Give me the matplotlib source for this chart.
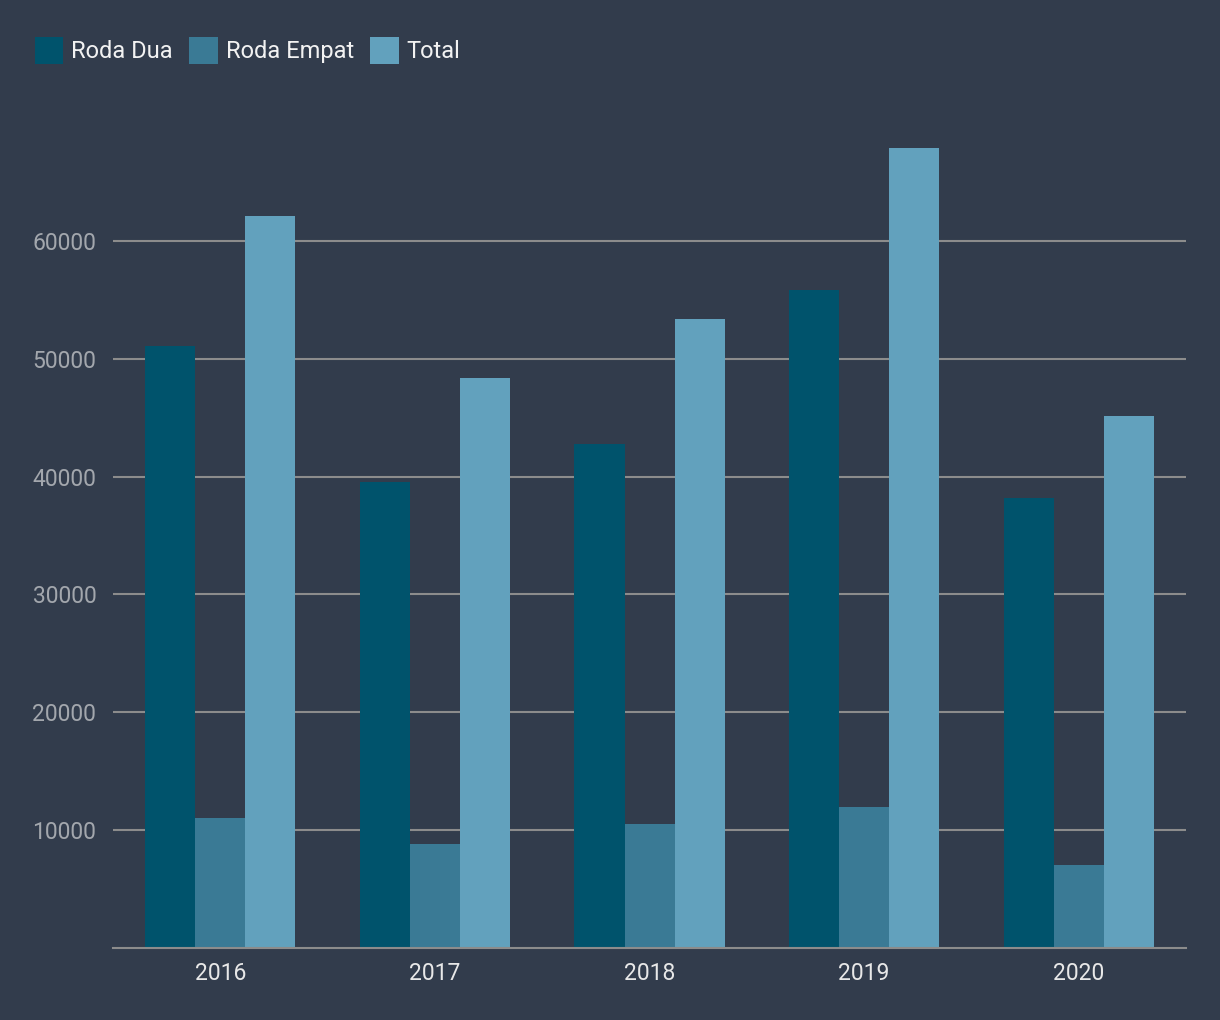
import matplotlib
matplotlib.use("Agg")
import matplotlib.pyplot as plt
from matplotlib.patches import Patch
import numpy as np

plt.rcParams['font.family'] = ['Roboto', 'DejaVu Sans']

years = ["2016", "2017", "2018", "2019", "2020"]
roda_dua = [51100, 39500, 42800, 55800, 38200]
roda_empat = [11000, 8800, 10500, 12000, 7000]
total = [62100, 48400, 53400, 67900, 45100]
series_names = ["Roda Dua", "Roda Empat", "Total"]
colors = ["#00536c", "#3a7a95", "#62a1bd"]
yticks = [10000, 20000, 30000, 40000, 50000, 60000]

bg = "#323c4c"
W, H = 1220, 1020
fig = plt.figure(figsize=(W / 100 + 0.001, H / 100 + 0.001), dpi=100, facecolor=bg)
ax = fig.add_axes([113 / W, (H - 948) / H, (1186 - 113) / W, (948 - 123) / H])
ax.set_facecolor(bg)

x = np.arange(len(years))
bw = 0.7 / 3
for i, (vals, c) in enumerate(zip([roda_dua, roda_empat, total], colors)):
    ax.bar(x + (i - 1) * bw, vals, width=bw, color=c, zorder=3, linewidth=0)

ax.set_xlim(-0.5, len(years) - 0.5)
ax.set_ylim(0, 70000)
ax.set_yticks(yticks)
ax.set_yticklabels([str(v) for v in yticks])
ax.set_xticks(x)
ax.set_xticklabels(years)
ax.grid(axis='y', color='#8c8c8c', linewidth=1.5, zorder=1)
ax.tick_params(axis='y', length=0, pad=12, labelsize=16.5, labelcolor='#a3a7ad')
ax.tick_params(axis='x', length=0, pad=10, labelsize=16.5, labelcolor='#e8e8e8')
for s in ['top', 'right', 'left']:
    ax.spines[s].set_visible(False)
ax.spines['bottom'].set_color('#8c8c8c')
ax.spines['bottom'].set_linewidth(1.5)
ax.spines['bottom'].set_zorder(4)

handles = [Patch(facecolor=c, edgecolor='none', label=n) for c, n in zip(colors, series_names)]
fig.legend(handles=handles, loc='upper left', bbox_to_anchor=(30 / W, 1 - 32 / H), ncol=3,
           frameon=False, fontsize=17, labelcolor='#f2f2f2', handlelength=1.2, handleheight=1.4,
           handletextpad=0.34, columnspacing=0.7, borderaxespad=0, borderpad=0.2)

fig.savefig("out.png", dpi=100, facecolor=bg)
